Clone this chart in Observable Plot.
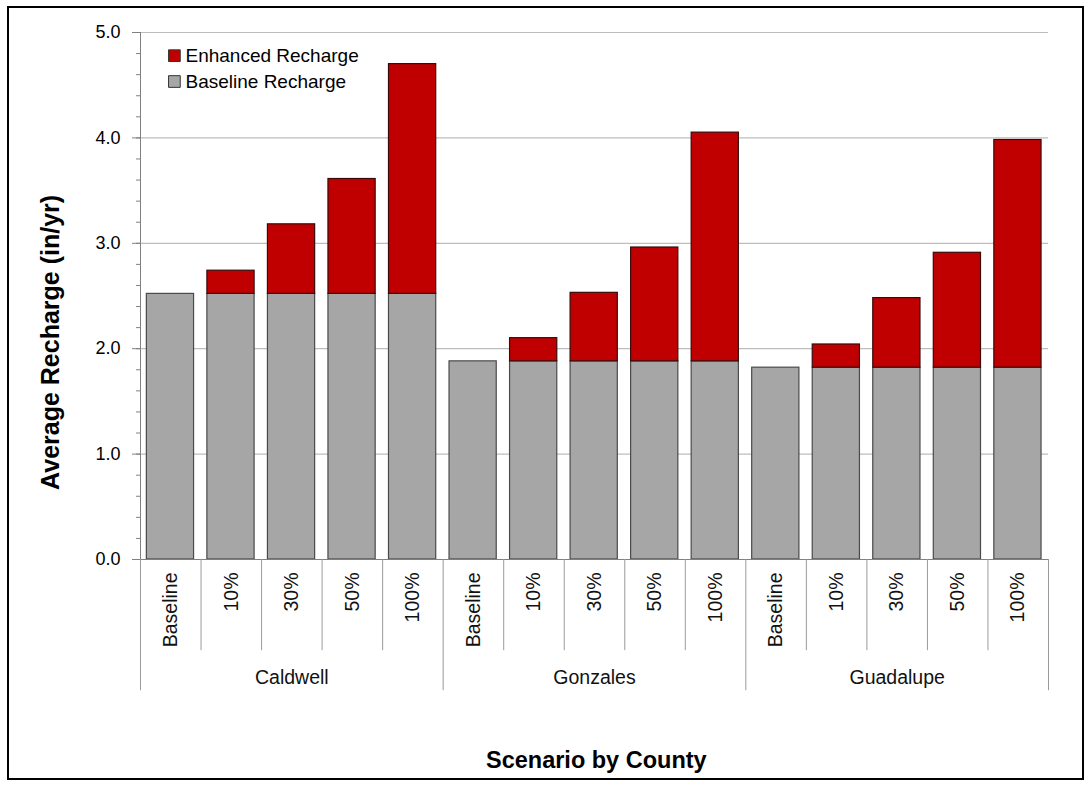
<!DOCTYPE html>
<html>
<head>
<meta charset="utf-8">
<script src="https://cdn.jsdelivr.net/npm/d3@7"></script>
<script src="https://cdn.jsdelivr.net/npm/@observablehq/plot@0.6"></script>
<style>
  html, body { margin: 0; padding: 0; background: #fff; }
  #wrap { position: relative; width: 1092px; height: 785px; }
  #border { position: absolute; left: 7px; top: 6px; width: 1077px; height: 774px; border: 2px solid #000; box-sizing: border-box; pointer-events: none; }
  svg { font-family: "Liberation Sans", Arial, sans-serif; }
</style>
</head>
<body>
<div id="wrap"><div id="border"></div></div>
<script>
const counties = ["Caldwell", "Gonzales", "Guadalupe"];
const scenarios = ["Baseline", "10%", "30%", "50%", "100%"];
const baselineRecharge = [2.52, 1.88, 1.82];
const caldwellTotal = [2.52, 2.74, 3.18, 3.61, 4.70];
const gonzalesTotal = [1.88, 2.10, 2.53, 2.96, 4.05];
const guadalupeTotal = [1.82, 2.04, 2.48, 2.91, 3.98];
const yTicks = [0, 1, 2, 3, 4, 5];
const seriesNames = ["Enhanced Recharge", "Baseline Recharge"];
const seriesColors = ["#c00000", "#a6a6a6"];

const totals = [caldwellTotal, gonzalesTotal, guadalupeTotal];
const rows = [];
counties.forEach((c, ci) => scenarios.forEach((s, si) => {
  rows.push({i: ci * scenarios.length + si, county: c, scenario: s, base: baselineRecharge[ci], total: totals[ci][si]});
}));
const nCat = rows.length;
const minorTicks = d3.range(0, 51, 2).map(v => v / 10);
const boundaries = d3.range(0, nCat + 1);

const chart = Plot.plot({
  width: 1092,
  height: 785,
  marginLeft: 140,
  marginRight: 44,
  marginTop: 32,
  marginBottom: 226,
  style: {fontFamily: '"Liberation Sans", Arial, sans-serif', background: "transparent", overflow: "visible"},
  x: {type: "linear", domain: [0, nCat], axis: null},
  y: {domain: [0, 5], axis: null},
  marks: [
    Plot.ruleY(yTicks.slice(1), {stroke: "#bdbdbd", strokeWidth: 1.2}),
    Plot.axisY({ticks: minorTicks, tickSize: 4, tickFormat: () => "", stroke: "#808080"}),
    Plot.axisY({ticks: yTicks, tickSize: 8, tickPadding: 12, tickFormat: d => d.toFixed(1), fontSize: 18, fill: "#000", stroke: "#808080", label: null}),
    Plot.ruleX([0], {stroke: "#808080"}),
    Plot.rectY(rows, {x1: d => d.i + 0.105, x2: d => d.i + 0.885, y1: 0, y2: "base", fill: seriesColors[1], stroke: "#4a4a4a", strokeWidth: 1.2}),
    Plot.rectY(rows.filter(d => d.total > d.base), {x1: d => d.i + 0.105, x2: d => d.i + 0.885, y1: "base", y2: "total", fill: seriesColors[0], stroke: "#3a0a0a", strokeWidth: 1.2}),
    Plot.ruleY([0], {stroke: "#808080", strokeWidth: 1.2}),
    Plot.ruleX(boundaries, {y1: 0, y2: d => d % scenarios.length === 0 ? -1.245 : -0.865, stroke: "#9a9a9a", strokeWidth: 1}),
    Plot.text(rows, {x: d => d.i + 0.5, y: 0, text: "scenario", rotate: -90, textAnchor: "end", dy: 13, fontSize: 19.5, fill: "#111"}),
    Plot.text(counties, {x: (d, i) => i * scenarios.length + scenarios.length / 2, y: 0, text: d => d, dy: 118, fontSize: 19.5, fill: "#111"}),
    Plot.text(["Average Recharge (in/yr)"], {x: 0, y: 2.06, text: d => d, rotate: -90, dx: -90, fontSize: 25, fontWeight: "bold", fill: "#000"}),
    Plot.text(["Scenario by County"], {x: 7.53, y: 0, text: d => d, dy: 201, fontSize: 23.5, fontWeight: "bold", fill: "#000"}),
    Plot.dot(seriesNames, {x: 0.56, y: (d, i) => 4.78 - i * 0.245, symbol: "square", r: 6.6, fill: (d, i) => seriesColors[i], stroke: "#333", strokeWidth: 1}),
    Plot.text(seriesNames, {x: 0.743, y: (d, i) => 4.78 - i * 0.245, text: d => d, textAnchor: "start", fontSize: 19, fill: "#000"})
  ]
});
document.getElementById("wrap").prepend(chart);
</script>
</body>
</html>
